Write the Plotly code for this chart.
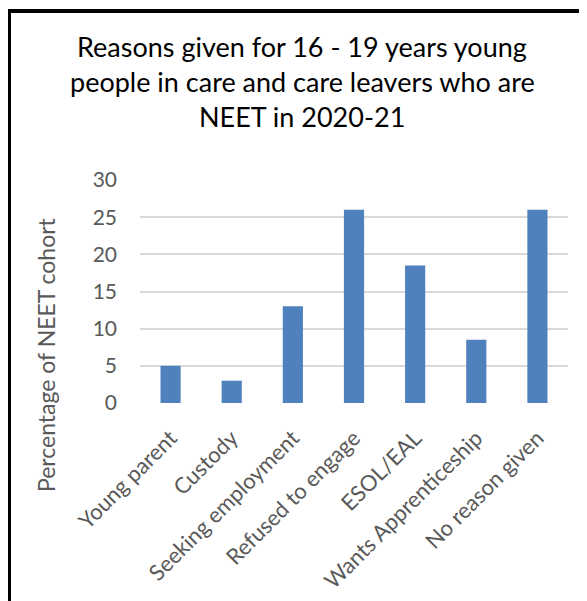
import plotly.graph_objects as go

# data
categories = ["Young parent", "Custody", "Seeking employment", "Refused to engage",
              "ESOL/EAL", "Wants Apprenticeship", "No reason given"]
percentages = [5, 3, 13, 26, 18.5, 8.5, 26]
y_ticks = [0, 5, 10, 15, 20, 25, 30]
title_lines = ["Reasons given for 16 - 19 years young",
               "people in care and care leavers who are",
               "NEET in 2020-21"]
y_title = "Percentage of NEET cohort"

# page body adds an 8px margin, so the figure is drawn 8px in from the window corner
OFF = 8
W, H = 587 - OFF, 601 - OFF
L, R, T, B = 140 - OFF, 19, 180 - OFF, 198
FONT = "Lato"


def px_x(x):
    # window pixel -> paper fraction
    return (x - OFF - L) / (W - L - R)


def px_y(y):
    return (H - B - (y - OFF)) / (H - T - B)


fig = go.Figure(go.Bar(
    x=categories,
    y=percentages,
    marker=dict(color="#4F81BD", line=dict(width=0)),
))

fig.update_layout(
    width=W, height=H,
    margin=dict(l=L, r=R, t=T, b=B, autoexpand=False),
    plot_bgcolor="white",
    paper_bgcolor="white",
    bargap=0.67,
    showlegend=False,
    font=dict(family=FONT, color="#595959"),
)

fig.update_yaxes(
    range=[0, 30],
    tickvals=y_ticks,
    showgrid=True, gridcolor="#D9D9D9", gridwidth=1.5,
    zeroline=False, showline=False,
    tickfont=dict(size=21, color="#595959"),
    ticklabelstandoff=22,
    automargin=False,
)
fig.update_xaxes(
    tickangle=-45,
    tickfont=dict(size=22, color="#595959"),
    showline=False,
    ticklabelstandoff=17,
    automargin=False,
)

# title as separate lines for line spacing
for i, line in enumerate(title_lines):
    fig.add_annotation(
        text=line, xref="paper", yref="paper",
        x=px_x(302), y=px_y(46 + 35 * i),
        xanchor="center", yanchor="middle", showarrow=False,
        font=dict(family=FONT, size=27, color="black"),
    )

fig.add_annotation(
    text=y_title, xref="paper", yref="paper",
    x=px_x(46), y=px_y(355), textangle=-90,
    xanchor="center", yanchor="middle", showarrow=False,
    font=dict(family=FONT, size=23, color="#595959"),
)

# cropped frame edges
frame = dict(type="line", xref="paper", yref="paper", line=dict(color="black"))
fig.add_shape(**frame, x0=px_x(0), x1=px_x(584), y0=px_y(11), y1=px_y(11), line_width=4)
fig.add_shape(**frame, x0=px_x(9.5), x1=px_x(9.5), y0=px_y(11), y1=px_y(601), line_width=3)
fig.add_shape(**frame, x0=px_x(581.5), x1=px_x(581.5), y0=px_y(0), y1=px_y(11), line_width=3)

fig.write_html("out.html")
